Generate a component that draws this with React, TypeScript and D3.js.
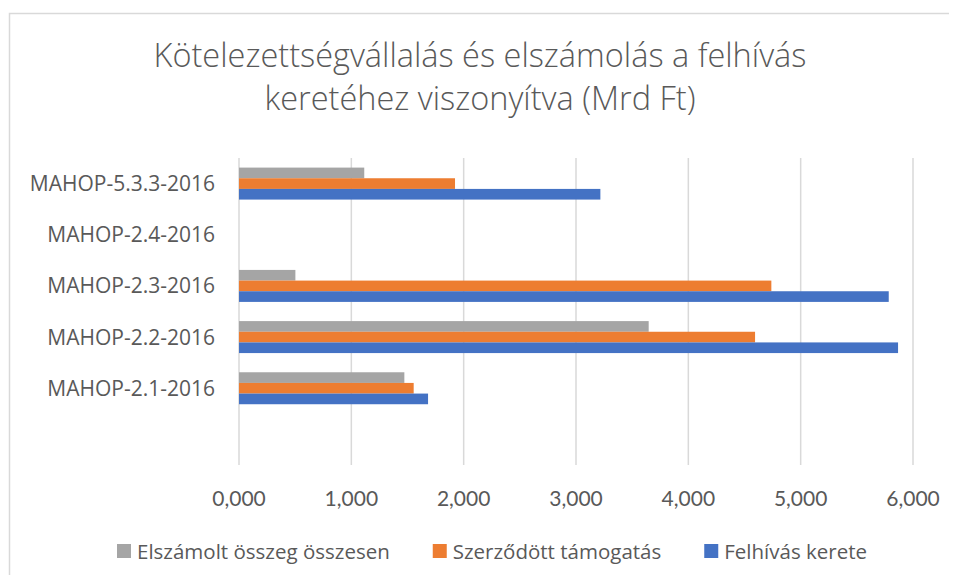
// Horizontal grouped bar chart: commitments and payments vs. call budget (Mrd Ft)

import React, { useEffect, useRef } from 'react';
import * as d3 from 'd3';

const categories = [
  'MAHOP-2.1-2016',
  'MAHOP-2.2-2016',
  'MAHOP-2.3-2016',
  'MAHOP-2.4-2016',
  'MAHOP-5.3.3-2016',
];

const seriesNames = ['Elszámolt összeg összesen', 'Szerződött támogatás', 'Felhívás kerete'];
const seriesColors = ['#A5A5A5', '#ED7D31', '#4472C4'];

// values in the same order as categories
const elszamolt = [1472, 3647, 502, 0, 1115];
const szerzodott = [1555, 4594, 4739, 0, 1923];
const felhivas = [1683, 5867, 5784, 0, 3217];

const xTicks = [0, 1000, 2000, 3000, 4000, 5000, 6000];

const titleLines = [
  'Kötelezettségvállalás és elszámolás a felhívás',
  'keretéhez viszonyítva (Mrd Ft)',
];

const App = () => {
  const svgRef = useRef<SVGSVGElement>(null);

  useEffect(() => {
    const width = 957;
    const height = 583;
    const svg = d3.select(svgRef.current);
    svg.selectAll('*').remove();
    svg.attr('width', width).attr('height', height);

    const textColor = '#595959';
    const gridColor = '#D9D9D9';

    // chart border
    svg.append('rect')
      .attr('x', 9.5).attr('y', 13.5)
      .attr('width', width).attr('height', height)
      .attr('fill', 'white')
      .attr('stroke', gridColor)
      .attr('stroke-width', 1.5);

    // title
    svg.append('g')
      .selectAll('text')
      .data(titleLines)
      .enter()
      .append('text')
      .attr('x', 480)
      .attr('y', (d, i) => 67 + i * 43)
      .attr('text-anchor', 'middle')
      .attr('font-family', 'Open Sans')
      .attr('font-weight', 300)
      .attr('font-size', 32.5)
      .attr('fill', textColor)
      .text(d => d);

    // scales
    const plotTop = 158;
    const plotBottom = 465;
    const xScale = d3.scaleLinear().domain([0, 6000]).range([239, 913]);

    // bottom slot stays empty, as in the original
    const yDomain = ['', ...categories].reverse();
    const yScale = d3.scaleBand()
      .domain(yDomain)
      .range([plotTop, plotBottom])
      .paddingInner(0.375)
      .paddingOuter(0.1875);

    const inner = d3.scaleBand()
      .domain(seriesNames)
      .range([0, yScale.bandwidth()]);

    // gridlines
    svg.append('g')
      .selectAll('line')
      .data(xTicks)
      .enter()
      .append('line')
      .attr('x1', d => xScale(d))
      .attr('x2', d => xScale(d))
      .attr('y1', plotTop)
      .attr('y2', plotBottom)
      .attr('stroke', gridColor)
      .attr('stroke-width', 1.5);

    // tick labels
    const fmt = (v: number) => d3.format(',.3f')(v / 1000).replace('.', ',');
    svg.append('g')
      .selectAll('text')
      .data(xTicks)
      .enter()
      .append('text')
      .attr('x', d => xScale(d))
      .attr('y', 506)
      .attr('text-anchor', 'middle')
      .attr('font-family', 'Lato')
      .attr('font-size', 21)
      .attr('fill', textColor)
      .text(d => fmt(d));

    // category labels
    svg.append('g')
      .selectAll('text')
      .data(categories)
      .enter()
      .append('text')
      .attr('x', 215)
      .attr('y', d => (yScale(d) as number) + yScale.bandwidth() / 2 + 7.5)
      .attr('text-anchor', 'end')
      .attr('font-family', 'Open Sans')
      .attr('font-size', 21)
      .attr('fill', textColor)
      .text(d => d);

    // bars
    const seriesValues = [elszamolt, szerzodott, felhivas];
    const rows = categories.flatMap((c, ci) =>
      seriesNames.map((s, si) => ({ cat: c, series: s, si, value: seriesValues[si][ci] }))
    );
    svg.append('g')
      .selectAll('rect')
      .data(rows.filter(r => r.value > 0))
      .enter()
      .append('rect')
      .attr('x', xScale(0))
      .attr('y', d => (yScale(d.cat) as number) + (inner(d.series) as number))
      .attr('width', d => xScale(d.value) - xScale(0))
      .attr('height', inner.bandwidth())
      .attr('fill', d => seriesColors[d.si]);

    // legend
    const legend = svg.append('g');
    let lx = 117;
    const ly = 551;
    seriesNames.forEach((name, i) => {
      legend.append('rect')
        .attr('x', lx).attr('y', ly - 7)
        .attr('width', 14).attr('height', 14)
        .attr('fill', seriesColors[i]);
      const t = legend.append('text')
        .attr('x', lx + 20)
        .attr('y', ly + 7.5)
        .attr('font-family', 'Open Sans')
        .attr('font-size', 20.5)
        .attr('fill', textColor)
        .text(name);
      const w = (t.node() as SVGTextElement).getComputedTextLength();
      lx += 20 + w + 43;
    });
  }, []);

  return (
    <div style={{ margin: -8 }}>
      <svg ref={svgRef} style={{ display: 'block' }}></svg>
    </div>
  );
};

export default App;
